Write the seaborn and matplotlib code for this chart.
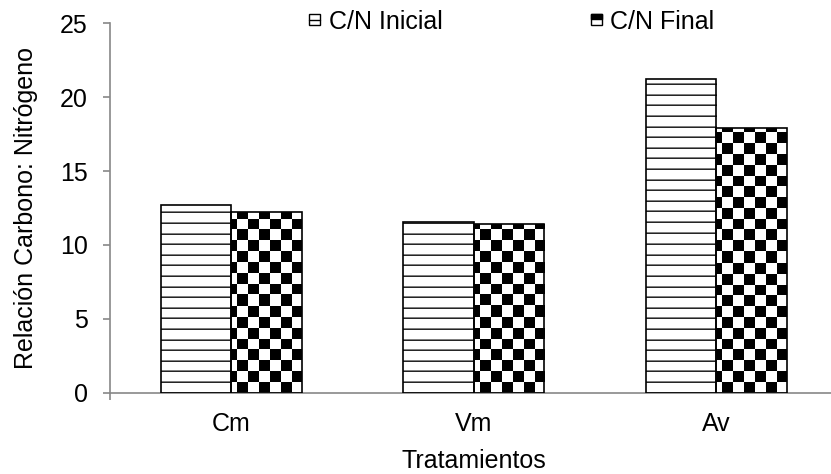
import numpy as np
import pandas as pd
import matplotlib
matplotlib.use("Agg")
import matplotlib.pyplot as plt
import seaborn as sns
from matplotlib.patches import Rectangle, Patch
from matplotlib.lines import Line2D
from matplotlib.legend_handler import HandlerBase

# C/N ratio per treatment, at the start and end of the process
tratamientos = ["Cm", "Vm", "Av"]
cn_inicial = [12.7, 11.55, 21.2]
cn_final = [12.2, 11.45, 17.9]
series = ["C/N Inicial", "C/N Final"]

df = pd.DataFrame({
    "Tratamiento": tratamientos * 2,
    "Serie": [series[0]] * len(tratamientos) + [series[1]] * len(tratamientos),
    "CN": cn_inicial + cn_final,
})

sns.set_theme(style="white")
plt.rcParams["font.family"] = ["Liberation Sans", "DejaVu Sans"]
plt.rcParams["font.size"] = 18
for key in ["text.color", "axes.labelcolor", "xtick.labelcolor", "ytick.labelcolor"]:
    plt.rcParams[key] = "black"

AXIS_GREY = "#888888"

fig = plt.figure(figsize=(8.31, 4.74), dpi=100)
ax = fig.add_axes([0.1324, 0.1715, 1.0078 - 0.1324, 0.9508 - 0.1715])

sns.barplot(data=df, x="Tratamiento", y="CN", hue="Serie", hue_order=series,
            order=tratamientos, palette=["white", "white"], edgecolor="black",
            linewidth=1.2, width=0.58, errorbar=None, legend=False, ax=ax)

ax.set_xlim(-0.5, 2.5)
ax.set_ylim(0, 25)
ax.set_yticks(np.arange(0, 26, 5))

for s in ["top", "right"]:
    ax.spines[s].set_visible(False)
for s in ["left", "bottom"]:
    ax.spines[s].set_color(AXIS_GREY)
    ax.spines[s].set_linewidth(1.2)

ax.tick_params(axis="y", length=5, width=1.2, color=AXIS_GREY, pad=11,
               labelsize=18, left=True, labelcolor="black")
ax.tick_params(axis="x", length=0, pad=14, labelsize=18, labelcolor="black")
ax.set_xticks([-0.5], minor=True)
ax.tick_params(axis="x", which="minor", length=5, width=1.2, color=AXIS_GREY,
               bottom=True)

ax.set_xlabel("Tratamientos", fontsize=18, labelpad=9, color="black")
ax.set_ylabel("Relación Carbono: Nitrógeno", fontsize=18, labelpad=15.5,
              color="black")


def pattern_image(kind, nx, ny):
    yy, xx = np.mgrid[0:ny, 0:nx]
    img = np.ones((ny, nx, 3))
    if kind == "stripes":
        phase = np.mod(yy + 1.0, 10.6)
        img[phase < 1.0] = 0.15
        img[(phase >= 1.0) & (phase < 2.0)] = 0.5
    else:
        cell = 10.8
        chk = (np.floor((xx + 5.4) / cell) + np.floor(yy / cell)) % 2
        img[chk == 1] = 0.0
    return img


def fill_bar(bar, kind):
    x0, y0 = bar.get_x(), bar.get_y()
    w, h = bar.get_width(), bar.get_height()
    p0 = ax.transData.transform((x0, y0))
    p1 = ax.transData.transform((x0 + w, y0 + h))
    nx = max(int(round(p1[0] - p0[0])), 1)
    ny = max(int(round(p1[1] - p0[1])), 1)
    im = ax.imshow(pattern_image(kind, nx, ny), extent=(x0, x0 + w, y0, y0 + h),
                   origin="lower", interpolation="nearest", aspect="auto",
                   zorder=2)
    im.set_clip_path(bar)
    bar.set_facecolor("none")
    bar.set_zorder(3)


for container, kind in zip(ax.containers, ["stripes", "checker"]):
    for bar in container:
        fill_bar(bar, kind)

ax.set_xlim(-0.5, 2.5)
ax.set_ylim(0, 25)


class SquareIcon(HandlerBase):
    def __init__(self, kind):
        super().__init__()
        self.kind = kind

    def create_artists(self, legend, orig_handle, xdescent, ydescent,
                       width, height, fontsize, trans):
        s = 11.0 * 72 / 100
        x = -xdescent + (width - s) / 2
        y = -ydescent + (height - s) / 2
        arts = [Rectangle((x, y), s, s, facecolor="white", edgecolor="black",
                          linewidth=1.0, transform=trans)]
        if self.kind == "inicial":
            arts.append(Line2D([x, x + s], [y + s / 2, y + s / 2], color="black",
                               linewidth=1.0, transform=trans))
        else:
            arts.append(Rectangle((x, y + s * 0.6), s, s * 0.4,
                                  facecolor="black", edgecolor="black",
                                  linewidth=1.0, transform=trans))
        return arts


h_ini = Patch(facecolor="white", edgecolor="black", label=series[0])
h_fin = Patch(facecolor="white", edgecolor="black", label=series[1])
fig.legend(handles=[h_ini, h_fin], labels=series, ncol=2, frameon=False,
           loc="center", bbox_to_anchor=(0.6155, 0.954), fontsize=18,
           handlelength=0.5, handleheight=0.5, handletextpad=0.32,
           columnspacing=5.88, borderpad=0,
           handler_map={h_ini: SquareIcon("inicial"), h_fin: SquareIcon("final")})

fig.savefig("out.png", dpi=100)
